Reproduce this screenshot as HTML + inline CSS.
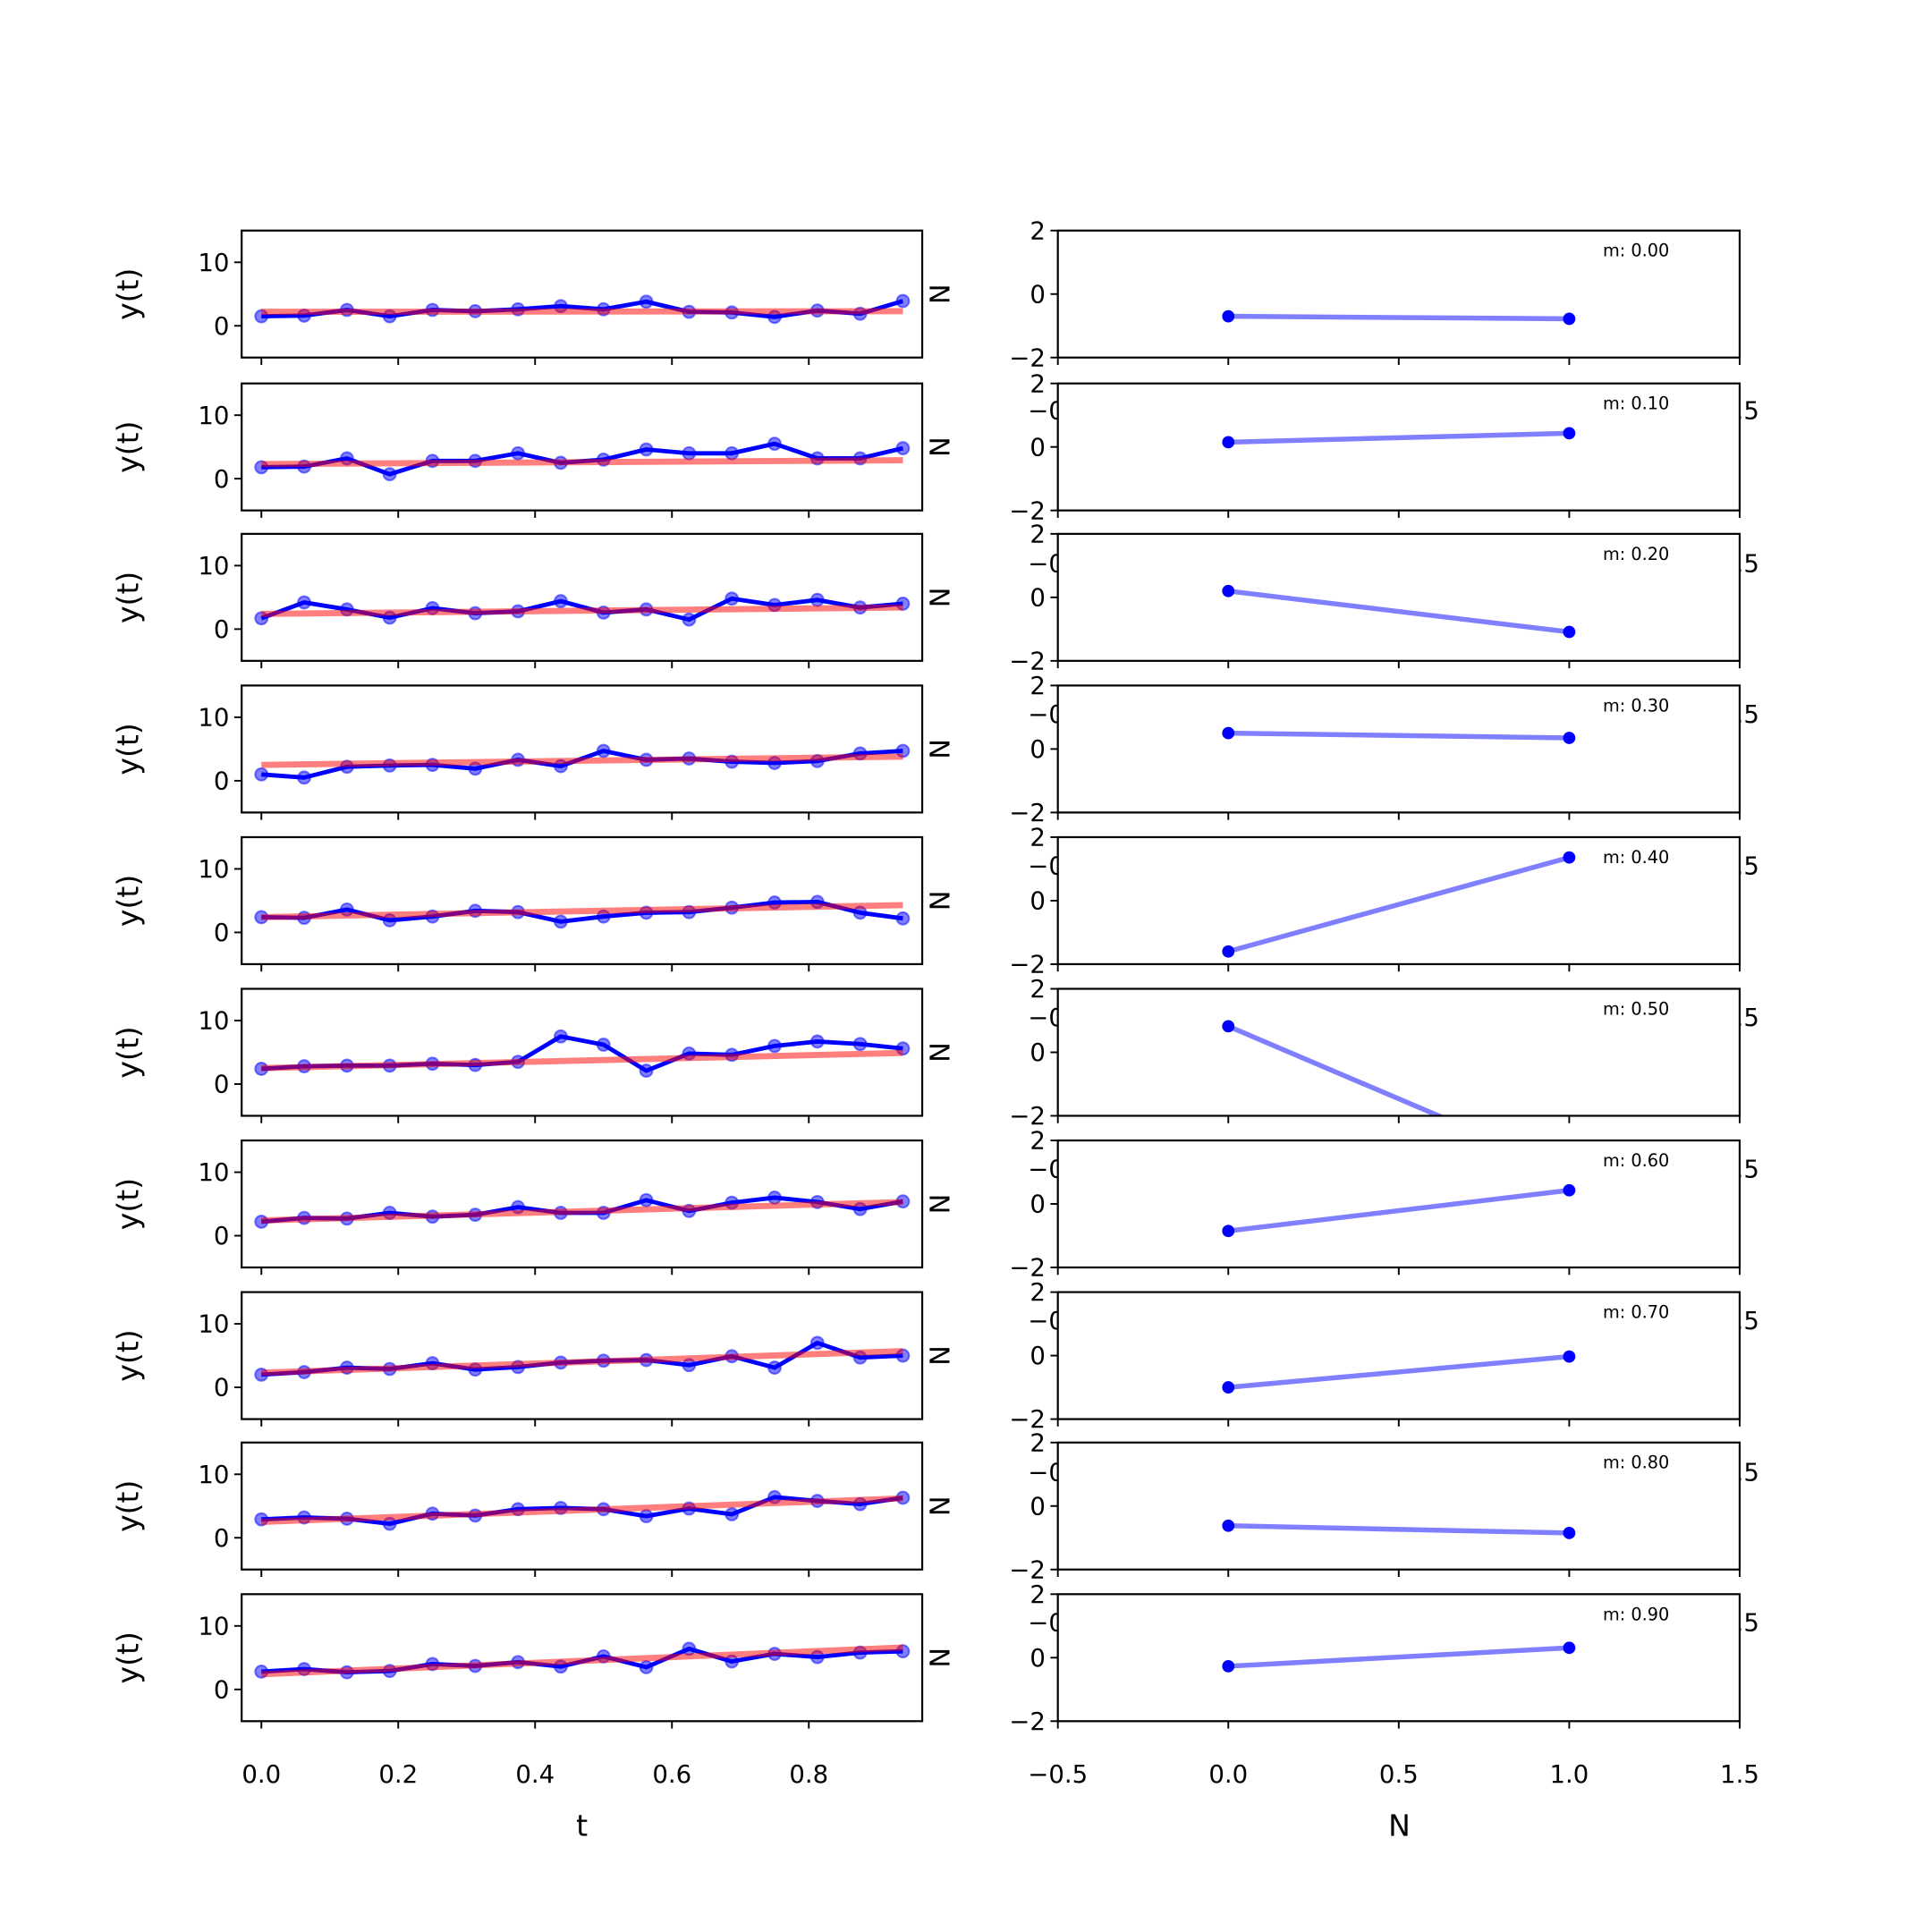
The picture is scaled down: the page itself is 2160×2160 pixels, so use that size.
<!DOCTYPE html>
<html><head><meta charset="utf-8"><style>
html,body{margin:0;padding:0;background:#fff}
svg{display:block}
text{font-family:"DejaVu Sans","Liberation Sans",sans-serif;fill:#000}
</style></head>
<body>
<svg id="fig" width="2160" height="2160" viewBox="0 0 1567 1567" xmlns="http://www.w3.org/2000/svg"></svg>
<script>
// ---- data ----
const tValues = [0,1,2,3,4,5,6,7,8,9,10,11,12,13,14,15].map(i=>i/16);
const mLabels = ["0.00","0.10","0.20","0.30","0.40","0.50","0.60","0.70","0.80","0.90"];
const series1 = [1.5,1.6,2.5,1.5,2.5,2.3,2.6,3.1,2.6,3.8,2.2,2.1,1.4,2.4,1.9,3.9];
const series2 = [1.8,1.9,3.2,0.7,2.8,2.8,4.0,2.5,3.0,4.6,4.0,4.0,5.5,3.2,3.2,4.8];
const series3 = [1.7,4.2,3.1,1.8,3.3,2.5,2.8,4.4,2.6,3.1,1.5,4.8,3.8,4.6,3.4,4.0];
const series4 = [1.0,0.5,2.2,2.4,2.5,1.9,3.3,2.3,4.7,3.3,3.5,3.0,2.8,3.1,4.3,4.7];
const series5 = [2.4,2.3,3.6,1.9,2.5,3.4,3.2,1.7,2.5,3.1,3.2,3.9,4.7,4.8,3.1,2.2];
const series6 = [2.4,2.8,2.9,2.9,3.2,3.0,3.5,7.5,6.2,2.1,4.8,4.6,6.0,6.7,6.3,5.6];
const series7 = [2.2,2.8,2.7,3.6,3.0,3.3,4.5,3.6,3.6,5.6,3.9,5.2,6.0,5.3,4.2,5.4];
const series8 = [2.0,2.4,3.1,2.9,3.8,2.8,3.2,3.9,4.2,4.3,3.5,4.9,3.1,7.0,4.7,5.0];
const series9 = [2.9,3.2,3.0,2.2,3.8,3.5,4.5,4.7,4.5,3.4,4.6,3.7,6.4,5.8,5.3,6.3];
const series10 = [2.8,3.2,2.7,2.9,4.0,3.7,4.3,3.6,5.2,3.5,6.4,4.4,5.6,5.1,5.8,6.0];
const allSeries = [series1,series2,series3,series4,series5,series6,series7,series8,series9,series10];
const fitStart = [2.2,2.3,2.4,2.5,2.4,2.5,2.4,2.3,2.5,2.4];
const fitEnd = [2.3,2.9,3.4,3.8,4.3,4.9,5.3,5.7,6.2,6.6];
const nValues = [0,1];
const rightAt0 = [-0.70,0.15,0.20,0.50,-1.60,0.82,-0.85,-1.00,-0.62,-0.27];
const rightAt1 = [-0.78,0.43,-1.09,0.35,1.36,-3.75,0.43,-0.03,-0.85,0.31];
const leftXTicks = [0,0.2,0.4,0.6,0.8];
const leftXTickLabels = ["0.0","0.2","0.4","0.6","0.8"];
const leftYTicks = [0,10];
const rightXTicks = [-0.5,0,0.5,1,1.5];
const rightXTickLabels = ["\u22120.5","0.0","0.5","1.0","1.5"];
const rightYTicks = [-2,0,2];
const rightYTickLabels = ["\u22122","0","2"];

const NS="http://www.w3.org/2000/svg";
const svg=document.getElementById('fig');
function mk(tag,attrs,parent){const e=document.createElementNS(NS,tag);for(const k in attrs)e.setAttribute(k,attrs[k]);(parent||svg).appendChild(e);return e;}
const L0=196,L1=748,R0=858,R1=1411;
const rowTops=[187,311,433,556,679,802,925,1048,1170,1293];
const H=103;
const defs=mk('defs',{});

for(let r=0;r<10;r++){
  const top=rowTops[r], bot=top+H;
  const sx=t=>212+t*555;
  const ly=v=>bot-(v+5)/20*H;
  const rx=n=>R0+(n+0.5)/2*(R1-R0);
  const ry=v=>bot-(v+2)/4*H;
  // ---------- left axes ----------
  const gl=mk('g',{});
  
  
  mk('rect',{x:L0,y:top,width:L1-L0,height:H,fill:'#fff'},gl);
  const cl=mk('clipPath',{id:'cl'+r},defs);
  mk('rect',{x:L0,y:top,width:L1-L0,height:H},cl);
  const gd=mk('g',{'clip-path':'url(#cl'+r+')'},gl);
  const data=allSeries[r];
  const pts=data.map((v,i)=>sx(tValues[i])+','+ly(v)).join(' ');
  const bl=mk('polyline',{points:pts,fill:'none',stroke:'#0000ff','stroke-width':3.5,'stroke-linejoin':'round'},gd);
  
  
  data.forEach((v,i)=>{
    const c=mk('circle',{cx:sx(tValues[i]),cy:ly(v),r:5,fill:'#0000ff','fill-opacity':0.5,stroke:'#0000ff','stroke-opacity':0.5,'stroke-width':1.5},gd);
    
    
  });
  const fl=mk('line',{x1:sx(tValues[0]),y1:ly(fitStart[r]),x2:sx(tValues[15]),y2:ly(fitEnd[r]),stroke:'#ff0000','stroke-opacity':0.5,'stroke-width':5},gd);
  
  
  mk('rect',{x:L0,y:top,width:L1-L0,height:H,fill:'none',stroke:'#000','stroke-width':1.6},gl);
  leftYTicks.forEach(v=>{
    mk('line',{x1:L0-6,x2:L0,y1:ly(v),y2:ly(v),stroke:'#000','stroke-width':1.4},gl);
    const t=mk('text',{x:L0-10,y:ly(v)+7,'text-anchor':'end','font-size':20},gl);t.textContent=String(v);
    
    
  });
  leftXTicks.forEach((v,i)=>{
    mk('line',{x1:sx(v),x2:sx(v),y1:bot,y2:bot+6,stroke:'#000','stroke-width':1.4},gl);
    const t=mk('text',{x:sx(v),y:bot+50,'text-anchor':'middle','font-size':20},gl);t.textContent=leftXTickLabels[i];
    
    
  });
  const yl=mk('text',{x:0,y:0,'text-anchor':'middle','font-size':24,transform:'translate(112,'+(top+H/2)+') rotate(-90)'},gl);
  yl.textContent='y(t)';
  
  
  // ---------- right axes ----------
  const gr=mk('g',{});
  
  
  const nl=mk('text',{x:0,y:0,'text-anchor':'middle','font-size':22,transform:'translate(770,'+(top+H/2)+') rotate(-90)'},gr);
  nl.textContent='N';
  
  
  mk('rect',{x:R0,y:top,width:R1-R0,height:H,fill:'#fff'},gr);
  const cr=mk('clipPath',{id:'cr'+r},defs);
  mk('rect',{x:R0,y:top,width:R1-R0,height:H},cr);
  const gd2=mk('g',{'clip-path':'url(#cr'+r+')'},gr);
  const rl=mk('line',{x1:rx(nValues[0]),y1:ry(rightAt0[r]),x2:rx(nValues[1]),y2:ry(rightAt1[r]),stroke:'#0000ff','stroke-opacity':0.5,'stroke-width':4},gd2);
  
  
  [rightAt0[r],rightAt1[r]].forEach((v,i)=>{
    const c=mk('circle',{cx:rx(nValues[i]),cy:ry(v),r:5,fill:'#0000ff'},gd2);
    
    
  });
  const mt=mk('text',{x:1300,y:top+21,'font-size':14},gr);mt.textContent='m: '+mLabels[r];
  
  
  mk('rect',{x:R0,y:top,width:R1-R0,height:H,fill:'none',stroke:'#000','stroke-width':1.6},gr);
  rightYTicks.forEach((v,i)=>{
    mk('line',{x1:R0-6,x2:R0,y1:ry(v),y2:ry(v),stroke:'#000','stroke-width':1.4},gr);
    const t=mk('text',{x:R0-10,y:ry(v)+7,'text-anchor':'end','font-size':20},gr);t.textContent=rightYTickLabels[i];
    
    
  });
  rightXTicks.forEach((v,i)=>{
    mk('line',{x1:rx(v),x2:rx(v),y1:bot,y2:bot+6,stroke:'#000','stroke-width':1.4},gr);
    const t=mk('text',{x:rx(v),y:bot+50,'text-anchor':'middle','font-size':20},gr);t.textContent=rightXTickLabels[i];
    
    
  });
}
const tx=mk('text',{x:472,y:1489,'text-anchor':'middle','font-size':24});tx.textContent='t';


const nx=mk('text',{x:1135,y:1489,'text-anchor':'middle','font-size':24});nx.textContent='N';


</script>
</body></html>
